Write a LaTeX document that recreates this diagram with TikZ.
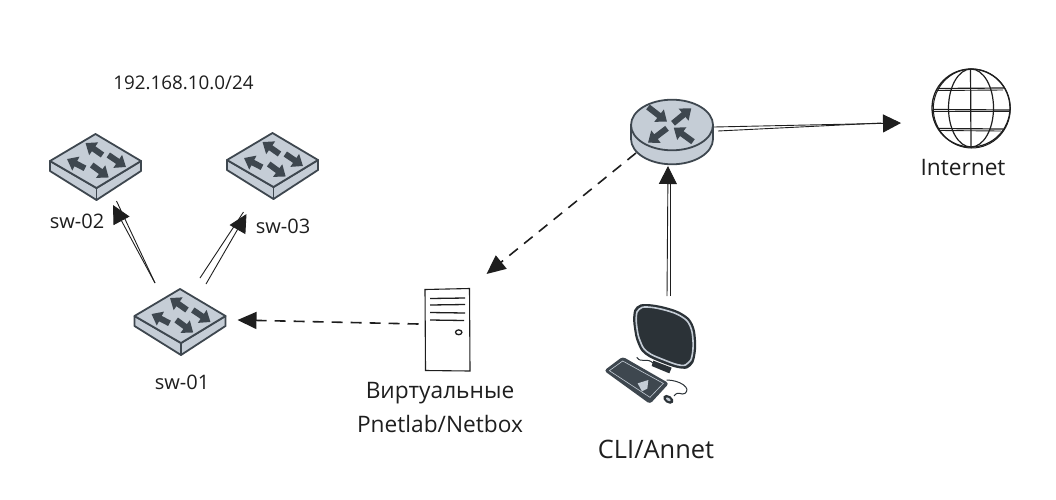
\documentclass[tikz,border=0pt]{standalone}
\usepackage{fontspec}
\setmainfont{Open Sans}
\usetikzlibrary{arrows.meta}
\definecolor{icondark}{HTML}{3E474F}
\definecolor{iconface}{HTML}{C5CDD6}
\definecolor{pcdark}{HTML}{2B3237}
\definecolor{inkline}{HTML}{1E1E1E}
\tikzset{
  iconline/.style={draw=icondark,fill=iconface,line width=1.8pt,line join=round},
  flowarrow/.style={draw=icondark,line width=6pt,-{Triangle[length=10pt,width=15pt]}},
  sketch/.style={draw=inkline,line width=.9pt},
  headline/.style={sketch,-{Triangle[length=18pt,width=18pt]},inkline},
  dashline/.style={draw=inkline,line width=1.6pt,dash pattern=on 11pt off 8pt,-{Triangle[length=19pt,width=17pt]}},
  anchorbox/.style={inner sep=0pt,outer sep=0pt},
  lbl/.style={text=inkline,inner sep=0pt,font=\fontsize{20pt}{24pt}\selectfont},
  lblbig/.style={text=inkline,inner sep=0pt,font=\fontsize{22.7pt}{27pt}\selectfont},
  switchicon/.pic={
    \draw[iconline] (-45.5,0) -- (-45.5,10) -- (1,39) -- (45.5,10) -- (45.5,0) -- (1,27) -- cycle;
    \draw[iconline] (1,27) -- (1,39);
    \draw[iconline] (0,-27) -- (45.5,0) -- (1,27) -- (-45.5,0) -- cycle;
    \draw[flowarrow] (7,-6) -- (-10,-18);
    \draw[flowarrow] (-10.5,7.3) -- (-28.5,-2);
    \draw[flowarrow] (12.8,-6) -- (30.5,6);
    \draw[flowarrow] (-3.8,4) -- (13.2,16.5);
  },
  routericon/.pic={
    \draw[iconline] (-41,0) -- (-41,14) arc[start angle=180,end angle=0,x radius=41,y radius=25.3] -- (41,0);
    \draw[iconline] (0,0) circle[x radius=41,y radius=25.3];
    \draw[flowarrow] (-24,-18) -- (-5,-3.3);
    \draw[flowarrow] (1,-1.7) -- (19.3,-16.7);
    \draw[flowarrow] (-5,3.3) -- (-24,17.7);
    \draw[flowarrow] (21,16.7) -- (1.7,2.7);
  },
}
\begin{document}
\begin{tikzpicture}[x=1pt,y=-1pt]
\useasboundingbox (0,0) rectangle (1056,499);
% switches
\node[anchorbox,minimum width=91pt,minimum height=66pt] (sw02) at (95.5,161) {};
\node[anchorbox,minimum width=91pt,minimum height=66pt] (sw03) at (272.5,160) {};
\node[anchorbox,minimum width=91pt,minimum height=66pt] (sw01) at (180,316) {};
\pic at (sw02) {switchicon};
\pic at (sw03) {switchicon};
\pic at (sw01) {switchicon};
% router
\node[anchorbox,minimum width=82pt,minimum height=65pt] (router) at (672,125) {};
\pic at (router) {routericon};
% server
\node[anchorbox,minimum width=45pt,minimum height=82pt] (server) at (447.5,330) {};
\draw[draw=inkline,fill=white,line width=1.1pt] (425,289.5) -- (469.5,288.5) -- (470,371) -- (425.5,370.5) -- cycle;
\draw[sketch,line width=1.3pt] (430,298.5) -- (465,298);
\draw[sketch,line width=1.3pt] (430,305) -- (465,304.5);
\draw[sketch,line width=1.3pt] (430,312.5) -- (465,313);
\draw[sketch,line width=1.3pt] (430,320) -- (464,320.5);
\draw[sketch,line width=1.3pt] (458.7,332.3) circle[x radius=3.2,y radius=2.4];
% workstation
\node[anchorbox,minimum width=90pt,minimum height=110pt] (pc) at (648,355) {};
\begin{scope}[shift={(600,300)},scale=1/3]
\draw[draw=pcdark,line width=1pt] (110,172) .. controls (125,192) and (140,170) .. (160,190);
\fill[pcdark] (160,182) -- (215,203) -- (208,220) -- (155,198) -- cycle;
\fill[icondark,rounded corners=3pt] (12,212) -- (68,170) -- (207,250) -- (150,312) -- cycle;
\draw[iconface,line width=.6pt] (28,212) -- (68,183) -- (190,250) -- (150,292) -- cycle;
\fill[iconface] (113,250) -- (145,240) -- (142,266) -- (126,274) -- cycle;
\draw[pcdark,line width=1pt] (200,240) .. controls (240,240) and (275,265) .. (255,280) .. controls (245,288) and (235,270) .. (222,288);
\fill[pcdark,rotate around={-35:(205,298)}] (205,298) circle[x radius=17,y radius=11];
\fill[iconface,rotate around={-35:(205,298)}] (205,298) circle[x radius=8,y radius=4];
\fill[pcdark] plot[smooth cycle,tension=.7] coordinates {(100,45) (110,20) (140,12) (200,22) (250,42) (278,72) (288,120) (285,170) (272,198) (245,206) (190,190) (135,163) (112,128) (102,85)};
\draw[iconface,line width=1.6pt] plot[smooth cycle,tension=.7] coordinates {(109,48) (117,28) (142,21) (198,31) (245,50) (270,77) (279,122) (276,168) (265,188) (243,196) (193,180) (141,155) (120,122) (111,85)};
\end{scope}
% globe
\node[anchorbox,minimum width=78pt,minimum height=79pt] (globe) at (971,108) {};
\draw[sketch,line width=1.3pt] (globe) circle[radius=39];
\draw[sketch,line width=1pt] ([shift={(.8,.5)}]globe.center) circle[x radius=38.5,y radius=39.5];
\draw[sketch,line width=1.2pt] (globe) circle[x radius=22.5,y radius=39];
\draw[sketch,line width=1.2pt] (970.5,69) -- (971,148);
\draw[sketch,line width=1.2pt] (937,88.5) -- (1004,88);
\draw[sketch] (938,90.5) -- (1003,90);
\draw[sketch,line width=1.2pt] (933,109.5) -- (1010,110);
\draw[sketch] (933,111.5) -- (1009,111.5);
\draw[sketch,line width=1.2pt] (938,128.5) -- (1003,129);
\draw[sketch] (940,130.5) -- (1001,131);
% labels
\node[lbl,font=\fontsize{18.8pt}{22pt}\selectfont] (net) at (183.5,83) {192.168.10.0/24};
\node[lbl] (lblsw02) at (77,221) {sw-02};
\node[lbl] (lblsw03) at (283,226) {sw-03};
\node[lbl] (lblsw01) at (182,382) {sw-01};
\node[lblbig] (lblvirt) at (440,393) {Виртуальные};
\node[lblbig] (lblpnet) at (440,424) {Pnetlab/Netbox};
\node[lblbig,font=\fontsize{25.4pt}{30pt}\selectfont] (lblcli) at (656,449) {CLI/Annet};
\node[lblbig] (lblnet) at (963,168) {Internet};
% connectors
\draw[headline] ([shift={(-25,-33)}]sw01.center) -- ([shift={(17.5,44)}]sw02.center);
\draw[sketch] ([shift={(-25,-33)}]sw01.center) -- ([shift={(21,40)}]sw02.center);
\draw[headline] ([shift={(26,-32)}]sw01.center) -- ([shift={(-26,54)}]sw03.center);
\draw[sketch] ([shift={(20,-38)}]sw01.center) -- ([shift={(-29,52)}]sw03.center);
\draw[dashline] ([shift={(-29,-6)}]server.center) -- ([shift={(57.5,4)}]sw01.center);
\draw[dashline] ([shift={(-36,28)}]router.center) -- ([shift={(39,-56)}]server.center);
\draw[headline] ([shift={(19,-59)}]pc.center) -- ([shift={(-4,41)}]router.center);
\draw[sketch] ([shift={(22,-59)}]pc.center) -- ([shift={(-2,50)}]router.center);
\draw[headline] ([shift={(42,2)}]router.center) -- ([shift={(-70,15)}]globe.center);
\draw[sketch] ([shift={(46,6)}]router.center) -- ([shift={(-90,15)}]globe.center);
\end{tikzpicture}
\end{document}
